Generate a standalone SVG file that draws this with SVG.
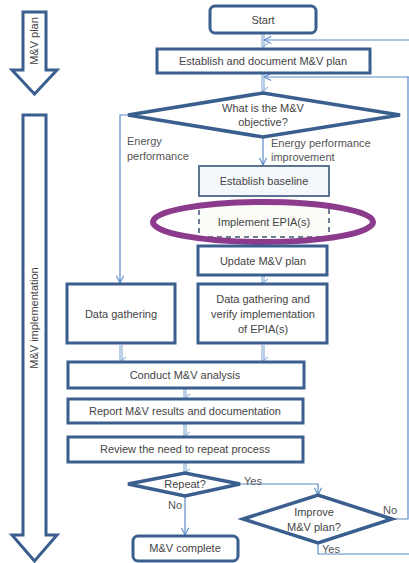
<svg xmlns="http://www.w3.org/2000/svg" width="409" height="563" viewBox="0 0 409 563">
<defs>
<style>
.box{fill:#fff;stroke:#3a5f8f;stroke-width:3}
.dia{fill:#fff;stroke:#3a5f8f;stroke-width:3.5;stroke-linejoin:miter}
.side{fill:#fff;stroke:#3a5f8f;stroke-width:3;stroke-linejoin:miter}
.t{font-family:"Liberation Sans",Arial,sans-serif;font-size:11px;fill:#444;text-anchor:middle}
.tl{font-family:"Liberation Sans",Arial,sans-serif;font-size:11px;fill:#555}
.pale{stroke:#bcd0e8;stroke-width:4;fill:none}
.thin{stroke:#5b8cc8;stroke-width:1.2;fill:none}
</style>
<marker id="pa" viewBox="0 0 10 10" refX="5" refY="8" markerWidth="10" markerHeight="10" markerUnits="userSpaceOnUse" orient="auto-start-reverse">
<path d="M1,3 L5,8 L9,3" fill="none" stroke="#9fbbdc" stroke-width="1.2"/>
</marker>
<marker id="ta" viewBox="0 0 10 10" refX="9" refY="5" markerWidth="9" markerHeight="9" markerUnits="userSpaceOnUse" orient="auto">
<path d="M1,1 L9,5 L1,9" fill="none" stroke="#5b8cc8" stroke-width="1.2"/>
</marker>
</defs>
<g id="phase-plan">
<path class="side" d="M23,12 H46 V70 H57 L34.5,94 L12,70 H23 Z"/>
<text class="t" transform="translate(38,41) rotate(-90)" font-size="12" fill="#222">M&amp;V plan</text>
</g>
<g id="phase-impl">
<path class="side" d="M23,115 H46 V535 H57 L34.5,561 L12,535 H23 Z"/>
<text class="t" transform="translate(38,318) rotate(-90)" font-size="12">M&amp;V implementation</text>
</g>
<g id="connectors">
<line class="pale" x1="263" y1="34" x2="263" y2="47" marker-end="url(#pa)"/>
<line class="pale" x1="263" y1="74" x2="263" y2="91" marker-end="url(#pa)"/>
<polyline class="thin" points="409,40 264,40" marker-end="url(#ta)"/>
<polyline class="thin" points="409,77 264,77" marker-end="url(#ta)"/>
<polyline class="thin" points="128,115 120,115 120,283" marker-end="url(#ta)"/>
<polyline class="thin" points="263,138 263,165" marker-end="url(#ta)"/>
<line class="pale" x1="263" y1="276" x2="263" y2="283" marker-end="url(#pa)"/>
<line class="pale" x1="121" y1="345" x2="121" y2="361" marker-end="url(#pa)"/>
<line class="pale" x1="263" y1="345" x2="263" y2="361" marker-end="url(#pa)"/>
<line class="pale" x1="185" y1="389" x2="185" y2="398" marker-end="url(#pa)"/>
<line class="pale" x1="185" y1="424" x2="185" y2="436" marker-end="url(#pa)"/>
<line class="pale" x1="185" y1="463" x2="185" y2="473" marker-end="url(#pa)"/>
<polyline class="thin" points="240,484 318,484 318,495" marker-end="url(#ta)"/>
<polyline class="thin" points="185,496 185,535" marker-end="url(#ta)"/>
<polyline class="thin" points="392,519 408,519 408,77"/>
<polyline class="thin" points="318,543 318,554 409,554"/>
<text class="tl" x="244" y="485">Yes</text>
<text class="tl" x="168" y="509">No</text>
<text class="tl" x="383" y="514">No</text>
<text class="tl" x="322" y="553">Yes</text>
<text class="tl" x="127" y="145">Energy</text>
<text class="tl" x="127" y="160">performance</text>
<text class="tl" x="271" y="147">Energy performance</text>
<text class="tl" x="271" y="161">improvement</text>
</g>
<g id="start">
<rect class="box" x="210" y="6" width="106" height="27" rx="5"/>
<text class="t" x="263" y="24">Start</text>
</g>
<g id="establish-plan">
<rect class="box" x="157" y="49" width="213" height="24"/>
<text class="t" x="263" y="65">Establish and document M&amp;V plan</text>
</g>
<g id="objective">
<polygon class="dia" points="128,115 263,93 400,115 263,137"/>
<text class="t" x="263" y="112">What is the M&amp;V</text>
<text class="t" x="263" y="126">objective?</text>
</g>
<g id="baseline">
<rect x="199" y="166" width="130" height="30" fill="#f4f7fb" stroke="#5d7590" stroke-width="2"/>
<text class="t" x="264" y="185">Establish baseline</text>
</g>
<g id="implement">
<rect x="199" y="204" width="130" height="33" fill="#fbfbf8" stroke="#6f7f92" stroke-width="2" stroke-dasharray="5,4"/>
<text class="t" x="264" y="226">Implement EPIA(s)</text>
<ellipse cx="263" cy="222" rx="110" ry="20" fill="none" stroke="#8c3a8c" stroke-width="6"/>
</g>
<g id="update-plan">
<rect class="box" x="198" y="246" width="129" height="29"/>
<text class="t" x="263" y="265" fill="#222">Update M&amp;V plan</text>
</g>
<g id="data-gathering">
<rect class="box" x="67" y="284" width="108" height="59"/>
<text class="t" x="121" y="318">Data gathering</text>
</g>
<g id="data-verify">
<rect class="box" x="198" y="284" width="129" height="59"/>
<text class="t" x="263" y="303">Data gathering and</text>
<text class="t" x="263" y="318">verify implementation</text>
<text class="t" x="263" y="333">of EPIA(s)</text>
</g>
<g id="analysis">
<rect class="box" x="68" y="362" width="236" height="26"/>
<text class="t" x="185" y="379">Conduct M&amp;V analysis</text>
</g>
<g id="report">
<rect class="box" x="68" y="399" width="235" height="24"/>
<text class="t" x="185" y="415">Report M&amp;V results and documentation</text>
</g>
<g id="review">
<rect class="box" x="68" y="437" width="235" height="25"/>
<text class="t" x="185" y="453">Review the need to repeat process</text>
</g>
<g id="repeat">
<polygon class="dia" points="128,484 185,473 240,484 185,496"/>
<text class="t" x="185" y="488">Repeat?</text>
</g>
<g id="improve">
<polygon class="dia" points="243,519 318,495 392,519 318,543"/>
<text class="t" x="314" y="516">Improve</text>
<text class="t" x="314" y="531">M&amp;V plan?</text>
</g>
<g id="complete">
<rect class="box" x="133" y="536" width="105" height="25" rx="5"/>
<text class="t" x="185" y="552">M&amp;V complete</text>
</g>
</svg>
